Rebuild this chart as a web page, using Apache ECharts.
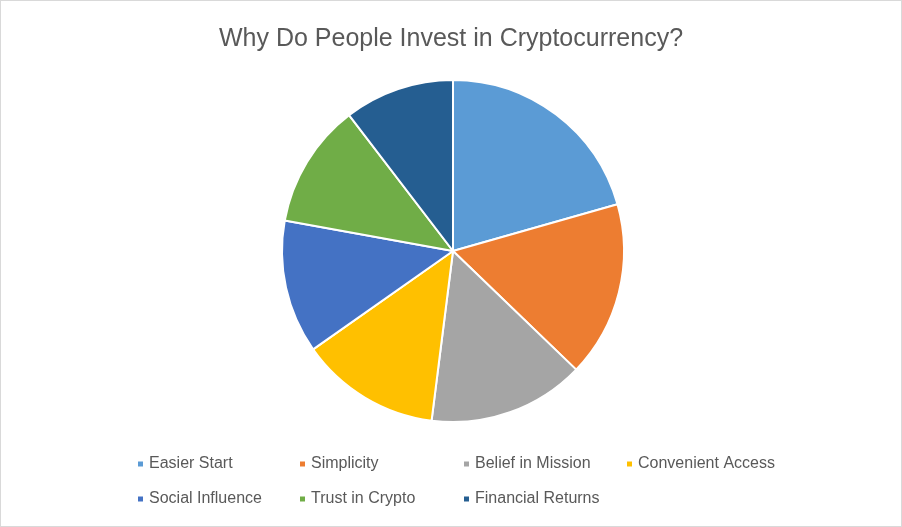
<!DOCTYPE html>
<html>
<head>
<meta charset="utf-8">
<script src="https://cdn.jsdelivr.net/npm/echarts@6/dist/echarts.min.js"></script>
<style>
  html, body { margin: 0; padding: 0; background: #fff; }
  #chart { width: 902px; height: 527px; box-sizing: border-box; border: 1px solid #d9d9d9; }
</style>
</head>
<body>
<div id="chart"></div>
<script>
const titleText = 'Why Do People Invest in Cryptocurrency?';
const categories = ['Easier Start', 'Simplicity', 'Belief in Mission', 'Convenient Access',
                    'Social Influence', 'Trust in Crypto', 'Financial Returns'];
const values = [20.6, 16.6, 14.8, 13.25, 12.6, 11.75, 10.4];
const colors = ['#5B9BD5', '#ED7D31', '#A5A5A5', '#FFC000', '#4472C4', '#70AD47', '#255E91'];

const chart = echarts.init(document.getElementById('chart'), null, { renderer: 'canvas' });
const colLeft = [135, 297, 461, 624];
const rowTop = [455, 490];
const legends = categories.map((c, i) => ({
  orient: 'horizontal',
  left: colLeft[i % 4],
  top: rowTop[Math.floor(i / 4)],
  itemWidth: 7,
  itemHeight: 7,
  itemGap: 0,
  icon: 'rect',
  selectedMode: false,
  padding: 0,
  textStyle: { fontFamily: 'Liberation Sans', fontSize: 16, color: '#595959' },
  data: [c]
}));
chart.setOption({
  animation: false,
  color: colors,
  title: {
    text: titleText,
    left: 'center',
    top: 21,
    textStyle: { fontFamily: 'Liberation Sans', fontSize: 25, fontWeight: 'normal', color: '#595959' }
  },
  legend: legends,
  series: [{
    type: 'pie',
    center: [452, 250],
    radius: [0, 171],
    startAngle: 90,
    clockwise: true,
    label: { show: false },
    labelLine: { show: false },
    itemStyle: { borderColor: '#ffffff', borderWidth: 2 },
    emphasis: { disabled: true },
    data: categories.map((c, i) => ({ name: c, value: values[i] }))
  }]
});
</script>
</body>
</html>
